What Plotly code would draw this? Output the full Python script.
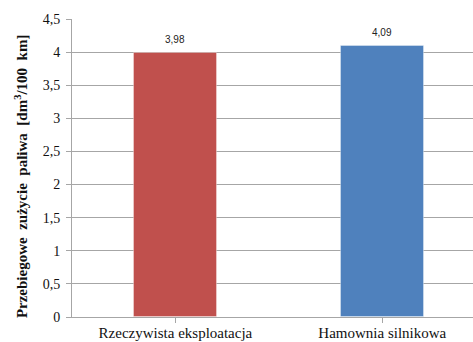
import plotly.graph_objects as go

categories = ["Rzeczywista eksploatacja", "Hamownia silnikowa"]
values = [3.98, 4.09]
bar_colors = ["#C0504D", "#4F81BD"]
value_labels = ["3,98", "4,09"]
y_ticks = [0, 0.5, 1, 1.5, 2, 2.5, 3, 3.5, 4, 4.5]
y_title = "Przebiegowe \u00a0zużycie \u00a0paliwa \u00a0[dm<sup>3</sup>/100 \u00a0km]"

axis_grey = "#A6A6A6"

fig = go.Figure(
    go.Bar(
        x=[0, 1],
        y=values,
        width=0.4,
        marker=dict(color=bar_colors, line=dict(color="rgba(255,255,255,0.35)", width=1)),
        hoverinfo="skip",
    )
)

# value labels sitting a little above each bar
for i, (v, lab) in enumerate(zip(values, value_labels)):
    fig.add_annotation(
        x=i, y=v, text=lab, showarrow=False,
        yanchor="bottom", yshift=6,
        font=dict(family="Liberation Sans", size=10, color="#222222"),
    )

# rotated y-axis title
fig.add_annotation(
    xref="paper", yref="paper",
    x=-0.127, y=0.473,
    text=f"<b>{y_title}</b>",
    textangle=-90, showarrow=False,
    xanchor="center", yanchor="middle",
    font=dict(family="Liberation Serif", size=15, color="#111111"),
)

fig.update_layout(
    width=473,
    height=342,
    margin=dict(l=72, r=0, t=19, b=25),
    paper_bgcolor="white",
    plot_bgcolor="white",
    separators=", ",
    showlegend=False,
    font=dict(family="Liberation Serif", color="#111111"),
    bargap=0,
)

fig.update_xaxes(
    range=[-0.5, 1.4385],
    tickmode="array",
    tickvals=[0, 1],
    ticktext=categories,
    tickson="boundaries",
    ticks="outside",
    ticklen=5,
    tickcolor=axis_grey,
    showline=True,
    linecolor=axis_grey,
    linewidth=1,
    showgrid=False,
    tickfont=dict(family="Liberation Serif", size=15, color="#111111"),
    ticklabelstandoff=-3,
    zeroline=False,
    automargin=False,
)

fig.update_yaxes(
    range=[0, 4.5],
    tickmode="array",
    tickvals=y_ticks,
    ticks="outside",
    ticklen=5,
    tickcolor=axis_grey,
    showline=True,
    linecolor=axis_grey,
    linewidth=1,
    showgrid=True,
    gridcolor=axis_grey,
    gridwidth=1,
    zeroline=False,
    automargin=False,
    tickfont=dict(family="Liberation Serif", size=14, color="#111111"),
    ticklabelstandoff=3,
)

fig.write_html("out.html")
